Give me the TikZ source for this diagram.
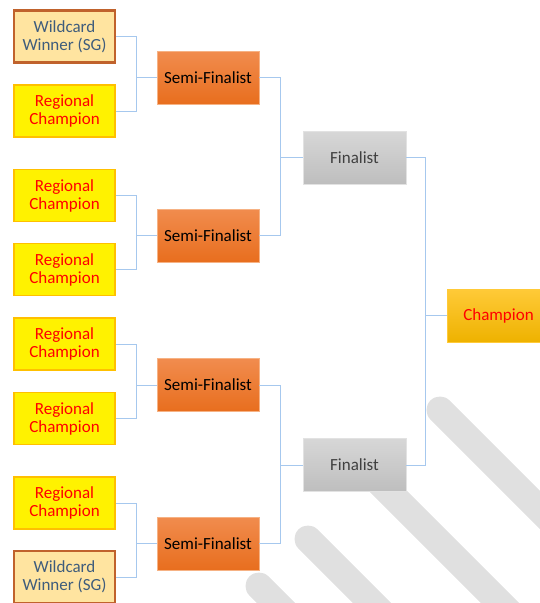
\documentclass[tikz,border=0pt]{standalone}
\usepackage{fontspec}
\setmainfont{Carlito}
\definecolor{wildfill}{RGB}{255,228,160}
\definecolor{wildedge}{RGB}{192,98,44}
\definecolor{wildtext}{RGB}{62,92,124}
\definecolor{regedge}{RGB}{255,192,0}
\definecolor{semitop}{RGB}{241,140,78}
\definecolor{semibot}{RGB}{232,110,30}
\definecolor{semiedge}{RGB}{246,178,132}
\definecolor{fintop}{RGB}{215,215,215}
\definecolor{finbot}{RGB}{190,190,190}
\definecolor{finedge}{RGB}{226,226,226}
\definecolor{fintext}{RGB}{64,64,64}
\definecolor{champtop}{RGB}{255,202,56}
\definecolor{champbot}{RGB}{238,178,0}
\definecolor{linkblue}{RGB}{166,200,238}
\definecolor{stripegray}{RGB}{224,224,224}
\begin{document}
\begin{tikzpicture}[x=1pt,y=-1pt,
        box/.style={font=\fontsize{17}{18}\selectfont, align=center, inner sep=0pt,
            minimum width=101pt, minimum height=52pt},
        wildcard/.style={box, fill=wildfill, draw=wildedge, line width=2.2pt, text=wildtext},
        regional/.style={box, fill=yellow, draw=regedge, line width=1.8pt, text=red},
        semi/.style={box, top color=semitop, bottom color=semibot, draw=semiedge,
            line width=0.6pt, minimum width=102pt, minimum height=53pt},
        final/.style={box, top color=fintop, bottom color=finbot, draw=finedge,
            line width=0.6pt, text=fintext, minimum width=103pt, minimum height=53pt},
        champ/.style={box, top color=champtop, bottom color=champbot, draw=champtop,
            line width=0.6pt, text=red, minimum width=103pt, minimum height=53pt},
        link/.style={draw=linkblue, line width=0.9pt},
        stripe/.style={draw=stripegray, line width=27pt, line cap=round}]
    \useasboundingbox (0,0) rectangle (539,603);

    % watermark stripes
    \draw[stripe]
        (440,410) -- (580,550)
        (360,463) -- (520,623)
        (308,539) -- (400,631)
        (259,586) -- (300,627)
    ;

    % qualifiers
    \node[wildcard] (q1) at (64.5,36.5) {Wildcard\\Winner (SG)};
    \node[regional] (q2) at (64.5,111) {Regional\\Champion};
    \node[regional] (q3) at (64.5,195.5) {Regional\\Champion};
    \node[regional] (q4) at (64.5,269.5) {Regional\\Champion};
    \node[regional] (q5) at (64.5,344) {Regional\\Champion};
    \node[regional] (q6) at (64.5,418.5) {Regional\\Champion};
    \node[regional] (q7) at (64.5,503) {Regional\\Champion};
    \node[wildcard] (q8) at (64.5,577) {Wildcard\\Winner (SG)};

    \node[semi] (s1) at (208,77.5) {Semi-Finalist};
    \node[semi] (s2) at (208,235.5) {Semi-Finalist};
    \node[semi] (s3) at (208,385) {Semi-Finalist};
    \node[semi] (s4) at (208,543.5) {Semi-Finalist};

    \node[final] (f1) at (354.5,157.5) {Finalist};
    \node[final] (f2) at (354.5,465) {Finalist};

    \node[champ] (c) at (498.5,315.5) {Champion};

    % brackets
    \draw[link]
        (q1.east) -| ([xshift=-20pt]s1.west) |- (q2.east)
        (s1.west) -- ++(-20,0)
        (q3.east) -| ([xshift=-20pt]s2.west) |- (q4.east)
        (s2.west) -- ++(-20,0)
        (q5.east) -| ([xshift=-20pt]s3.west) |- (q6.east)
        (s3.west) -- ++(-20,0)
        (q7.east) -| ([xshift=-20pt]s4.west) |- (q8.east)
        (s4.west) -- ++(-20,0)
        (s1.east) -| ([xshift=-22pt]f1.west) |- (s2.east)
        (f1.west) -- ++(-22,0)
        (s3.east) -| ([xshift=-22pt]f2.west) |- (s4.east)
        (f2.west) -- ++(-22,0)
        (f1.east) -| ([xshift=-21pt]c.west) |- (f2.east)
        (c.west) -- ++(-21,0)
    ;
\end{tikzpicture}
\end{document}
